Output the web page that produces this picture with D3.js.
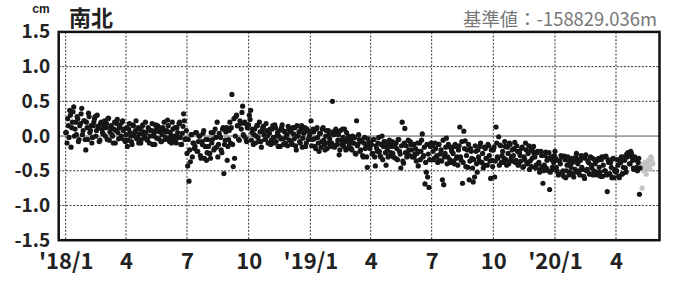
<!DOCTYPE html>
<html><head><meta charset="utf-8">
<script src="https://cdn.jsdelivr.net/npm/d3@7"></script>
<style>
html,body{margin:0;padding:0;background:#fff;}
svg{display:block;}
</style></head>
<body>
<svg id="chart" width="675" height="282"></svg>
<script>
// ---- data (cm), north-south component ----
// daily final solutions, split into even-day values (from 2018-01-01) and odd-day values (from 2018-01-02)
const evenStart = "2018-01-01";
const oddStart = "2018-01-02";
const stepDays = 2;
const ns2018 = [
 0.05,-0.1,0.15,0.37,-0.16,0.2,0.42,0.1,0.02,0.25,-0.05,0.18,0.4,0.08,0.22,-0.2,
 0.12,0.33,0.05,0.15,-0.02,0.2,0.28,0.08,0.14,-0.08,0.18,0.1,0.03,0.22,
 0.12,-0.05,0.26,0.06,0.15,0.0,0.1,-0.1,0.18,0.05,0.12,-0.03,0.2,0.08,-0.06,
 0.02,-0.15,0.1,0.05,-0.08,0.16,0.0,0.08,-0.04,0.12,0.03,-0.1,0.14,0.06,-0.02,
 0.05,-0.06,0.1,0.0,0.08,-0.12,0.04,0.16,-0.03,0.07,0.12,-0.08,0.02,0.09,-0.05,0.06,
 0.23,-0.04,0.05,-0.1,0.1,0.0,-0.06,0.12,-0.02,0.2,-0.12,0.04,0.32,-0.05,0.08,
 -0.43,-0.65,-0.37,0.02,-0.1,-0.18,0.05,-0.22,-0.08,0.0,-0.32,-0.12,0.08,-0.15,-0.35,
 -0.05,-0.25,-0.32,-0.1,0.05,-0.18,-0.02,0.2,-0.12,0.0,-0.2,0.1,-0.54,-0.06,0.12,-0.15,
 0.08,-0.1,0.6,-0.44,-0.32,0.28,0.15,-0.05,0.22,0.1,0.43,0.0,0.18,-0.08,0.12,
 0.3,0.37,0.05,-0.12,0.1,0.0,0.15,-0.08,0.06,-0.16,0.12,0.02,-0.05,0.08,-0.1,
 0.04,-0.12,0.1,-0.02,0.16,-0.08,0.05,0.0,-0.15,0.12,-0.04,0.07,-0.1,0.02,0.14,
 -0.06,0.08,-0.12,0.03,0.12,-0.2,0.0,0.06,-0.1,0.15,-0.03,0.05,-0.15,0.1,-0.05,0.02
];
const ns2019 = [
 0.22,-0.05,0.06,-0.15,0.1,-0.02,-0.22,0.04,-0.08,0.12,-0.12,0.0,-0.18,0.08,-0.04,
 -0.1,0.5,0.02,-0.14,0.05,-0.06,-0.27,0.08,-0.12,-0.02,0.1,-0.2,-0.05,0.0,
 -0.08,-0.18,0.0,-0.1,-0.25,0.22,-0.12,-0.05,-0.2,-0.08,-0.3,-0.02,-0.15,-0.45,-0.1,-0.18,
 -0.12,-0.25,-0.05,-0.43,-0.18,-0.1,-0.22,-0.3,0.0,-0.15,-0.08,-0.42,-0.2,-0.12,-0.28,
 -0.15,-0.25,-0.1,-0.32,-0.18,-0.05,-0.22,-0.46,0.2,-0.39,0.11,-0.14,-0.26,-0.2,-0.08,
 -0.2,-0.12,-0.3,-0.18,-0.25,-0.43,-0.1,-0.22,0.03,-0.28,-0.69,-0.52,-0.59,-0.74,-0.15,
 -0.1,-0.22,-0.32,-0.18,-0.28,-0.12,-0.35,-0.2,-0.63,-0.7,-0.25,-0.03,-0.3,-0.15,-0.38,-0.22,
 -0.25,-0.4,-0.15,-0.3,-0.2,0.13,-0.35,-0.68,0.07,-0.07,-0.28,-0.45,-0.63,-0.18,-0.32,
 -0.66,-0.59,-0.22,-0.52,-0.3,-0.15,-0.38,-0.25,-0.42,-0.18,-0.32,-0.12,-0.28,-0.61,-0.35,
 -0.2,-0.59,0.13,-0.3,-0.01,-0.13,-0.38,-0.22,-0.32,-0.15,-0.42,-0.25,-0.1,-0.35,-0.2,-0.28,
 -0.09,-0.35,-0.22,-0.4,-0.28,-0.18,-0.45,-0.3,-0.1,-0.38,-0.25,-0.48,-0.2,-0.32,-0.15,
 -0.3,-0.42,-0.22,-0.38,-0.48,-0.28,-0.68,-0.42,-0.23,-0.35,-0.5,-0.77,-0.3,-0.45,-0.38
];
const ns2020 = [
 -0.22,-0.45,-0.35,-0.55,-0.4,-0.3,-0.5,-0.29,-0.6,-0.42,-0.35,-0.52,-0.45,-0.38,-0.59,-0.48,
 -0.25,-0.4,-0.5,-0.35,-0.45,-0.3,-0.61,-0.27,-0.48,-0.38,-0.55,-0.42,-0.32,-0.5,
 -0.4,-0.52,-0.35,-0.45,-0.58,-0.3,-0.42,-0.5,-0.29,-0.8,-0.38,-0.55,-0.45,-0.33,-0.6,-0.48,
 -0.5,-0.42,-0.6,-0.38,-0.55,-0.45,-0.35,-0.52,-0.3,-0.27,-0.4,-0.25,-0.35,-0.48,-0.32,
 -0.45,-0.38,-0.84
];
const ns2018b = [
 0.05,0.25,-0.02,0.3,0.12,0.35,0.0,0.2,0.28,-0.08,0.15,0.32,0.02,0.22,-0.05,
 0.2,-0.05,0.28,0.08,-0.1,0.15,0.25,0.0,0.3,0.12,-0.06,0.2,0.05,0.15,
 0.0,0.18,0.25,-0.06,0.12,0.02,-0.1,0.2,0.08,0.24,-0.04,0.15,0.0,0.22,0.1,-0.08,
 0.12,-0.06,0.18,0.0,-0.12,0.15,0.05,0.22,-0.02,-0.1,0.1,-0.05,0.16,0.02,0.2,
 -0.05,0.12,-0.1,0.08,0.18,0.0,-0.12,0.1,0.15,-0.04,0.06,-0.08,0.12,0.2,-0.02,
 0.08,0.15,-0.08,0.0,0.2,-0.05,0.12,-0.1,0.05,0.18,-0.02,-0.12,0.14,0.22,-0.04,
 -0.25,-0.05,-0.2,0.02,-0.3,-0.1,-0.15,0.05,-0.22,0.0,-0.28,-0.08,0.04,-0.32,-0.05,-0.24,
 -0.15,-0.25,0.05,-0.05,-0.2,0.1,-0.16,-0.3,0.04,-0.02,-0.24,0.12,-0.12,0.06,-0.35,
 -0.05,0.2,0.12,-0.12,0.25,0.0,0.3,0.15,-0.06,0.18,0.34,0.02,0.2,-0.04,0.12,
 0.16,0.24,-0.06,0.1,0.02,-0.1,0.15,-0.02,0.2,-0.08,0.08,0.14,-0.05,0.18,0.0,-0.1,
 0.1,-0.06,0.15,-0.1,0.12,0.0,-0.15,0.08,-0.04,0.16,-0.12,0.06,-0.02,-0.14,0.1,
 0.06,-0.1,0.12,-0.04,-0.14,0.15,0.0,-0.08,0.1,-0.16,0.04,0.12,-0.1,0.08,-0.03
];
const ns2019b = [
 0.06,-0.14,0.1,-0.04,-0.18,0.12,-0.1,0.04,-0.16,0.1,-0.06,-0.2,0.08,-0.1,0.02,-0.15,
 -0.1,0.06,-0.16,0.1,-0.12,0.02,-0.2,-0.06,0.1,-0.15,-0.08,0.05,-0.18,-0.12,
 -0.05,-0.2,-0.1,-0.02,-0.26,-0.14,0.02,-0.22,-0.06,-0.28,-0.1,-0.18,-0.3,-0.04,-0.16,
 -0.1,-0.26,-0.05,-0.3,-0.14,-0.22,-0.02,-0.28,-0.12,-0.34,-0.08,-0.24,-0.15,-0.3,-0.06,
 -0.24,-0.08,-0.3,-0.15,-0.1,-0.34,-0.05,-0.26,-0.14,-0.36,-0.1,-0.24,-0.3,-0.06,-0.28,-0.12,
 -0.3,-0.12,-0.26,-0.36,-0.1,-0.22,-0.34,-0.06,-0.3,-0.16,-0.38,-0.12,-0.26,-0.34,-0.1,
 -0.14,-0.34,-0.1,-0.3,-0.38,-0.12,-0.26,-0.36,-0.06,-0.3,-0.16,-0.4,-0.12,-0.34,-0.18,
 -0.16,-0.36,-0.12,-0.32,-0.42,-0.14,-0.3,-0.08,-0.38,-0.18,-0.44,-0.2,-0.12,-0.36,-0.22,-0.46,
 -0.34,-0.14,-0.4,-0.2,-0.36,-0.1,-0.38,-0.46,-0.16,-0.32,-0.42,-0.14,-0.36,-0.2,-0.44,
 -0.16,-0.36,-0.1,-0.32,-0.42,-0.14,-0.28,-0.38,-0.08,-0.34,-0.16,-0.4,-0.12,-0.3,-0.36,
 -0.18,-0.38,-0.14,-0.42,-0.24,-0.36,-0.16,-0.44,-0.34,-0.2,-0.4,-0.14,-0.36,-0.44,-0.22,
 -0.26,-0.46,-0.24,-0.4,-0.52,-0.22,-0.44,-0.5,-0.28,-0.46,-0.32,-0.24,-0.52,-0.34,-0.48,-0.28
];
const ns2020b = [
 -0.32,-0.5,-0.56,-0.36,-0.28,-0.52,-0.58,-0.34,-0.5,-0.3,-0.56,-0.38,-0.32,-0.54,-0.36,
 -0.3,-0.52,-0.34,-0.56,-0.28,-0.48,-0.58,-0.32,-0.5,-0.36,-0.54,-0.3,-0.46,-0.56,-0.34,
 -0.36,-0.56,-0.32,-0.52,-0.34,-0.58,-0.3,-0.5,-0.56,-0.34,-0.54,-0.38,-0.6,-0.32,-0.5,
 -0.52,-0.34,-0.58,-0.36,-0.3,-0.54,-0.3,-0.46,-0.26,-0.24,-0.4,-0.22,-0.3,-0.46,-0.3,
 -0.34,-0.5,-0.32,-0.46
];
// rapid (preliminary) daily solutions, shown in grey
const rapidStart = "2020-05-08";
const nsRapid = [-0.45,-0.4,-0.75,-0.48,-0.5,-0.42,-0.38,-0.46,-0.55,-0.4,-0.42,-0.35,-0.35,-0.44,-0.48,-0.3,-0.32,-0.38,-0.4];

const yTicks = [-1.5,-1.0,-0.5,0.0,0.5,1.0,1.5];
const yTickLabels = ["-1.5","-1.0","-0.5","0.0","0.5","1.0","1.5"];
const xTickDates = ["2018-01-01","2018-04-01","2018-07-01","2018-10-01","2019-01-01","2019-04-01","2019-07-01","2019-10-01","2020-01-01","2020-04-01"];
const xTickLabels = ["'18/1","4","7","10","'19/1","4","7","10","'20/1","4"];
const xDomain = ["2017-12-21T14:00:00Z","2020-06-04T22:00:00Z"];
const title = "南北";
const unit = "cm";
const refText = "基準値：-158829.036m";

// ---- build ----
const parse = s => new Date(s.length === 10 ? s + "T00:00:00Z" : s);
const toPts = (vals, start, step) => { const t = parse(start);
  return vals.map((v, i) => ({date: d3.utcDay.offset(t, i * step), v})); };
const finalPts = toPts(ns2018.concat(ns2019, ns2020), evenStart, stepDays)
  .concat(toPts(ns2018b.concat(ns2019b, ns2020b), oddStart, stepDays));
const rapidPts = toPts(nsRapid, rapidStart, 1);

const L = 58.7, R = 659.5, T = 31.9, B = 240.2;
const x = d3.scaleUtc().domain(xDomain.map(parse)).range([L, R]);
const y = d3.scaleLinear().domain([-1.5, 1.5]).range([B, T]);

const svg = d3.select("#chart");
const FONT = "'Noto Sans CJK JP','Noto Sans',sans-serif";

svg.append("defs").append("clipPath").attr("id","clip")
  .append("rect").attr("x",L).attr("y",T).attr("width",R-L).attr("height",B-T);

// grid
const grid = svg.append("g");
grid.selectAll("line.h").data(yTicks.filter(d => d !== 0 && Math.abs(d) !== 1.5)).join("line")
  .attr("x1",L).attr("x2",R).attr("y1",d=>y(d)).attr("y2",d=>y(d))
  .attr("stroke","#333").attr("stroke-width",1).attr("stroke-dasharray","2,1.6");
grid.selectAll("line.v").data(xTickDates.map(parse)).join("line")
  .attr("x1",d=>x(d)).attr("x2",d=>x(d)).attr("y1",T).attr("y2",B)
  .attr("stroke","#333").attr("stroke-width",1).attr("stroke-dasharray","2,1.6");
grid.append("line").attr("x1",L).attr("x2",R).attr("y1",y(0)).attr("y2",y(0))
  .attr("stroke","#555").attr("stroke-width",1);

// points
const pts = svg.append("g").attr("clip-path","url(#clip)");
pts.selectAll("circle.r").data(rapidPts).join("circle")
  .attr("cx",d=>x(d.date)).attr("cy",d=>y(d.v)).attr("r",2.6).attr("fill","#c4c4c4");
pts.selectAll("circle.f").data(finalPts).join("circle")
  .attr("cx",d=>x(d.date)).attr("cy",d=>y(d.v)).attr("r",2.6).attr("fill","#161616");

// frame
svg.append("rect").attr("x",L).attr("y",T).attr("width",R-L).attr("height",B-T)
  .attr("fill","none").attr("stroke","#111").attr("stroke-width",2.5);

// axes
const xAxis = d3.axisBottom(x).tickValues(xTickDates.map(parse))
  .tickFormat((d,i)=>xTickLabels[i]).tickSize(0).tickPadding(13.5);
const gx = svg.append("g").attr("transform",`translate(0,${B})`).call(xAxis);
gx.select(".domain").remove();
gx.selectAll("text").attr("font-family",FONT).attr("font-weight","bold")
  .attr("font-size","22px").attr("fill","#222");

const yAxis = d3.axisLeft(y).tickValues(yTicks).tickFormat((d,i)=>yTickLabels[i])
  .tickSize(0).tickPadding(8.5);
const gy = svg.append("g").attr("transform",`translate(${L},0)`).call(yAxis);
gy.select(".domain").remove();
gy.selectAll("text").attr("font-family",FONT).attr("font-weight","bold")
  .attr("font-size","19px").attr("fill","#222");

// labels
svg.append("text").attr("x",69).attr("y",26).text(title)
  .attr("font-family",FONT).attr("font-weight","bold").attr("font-size","22px").attr("fill","#222");
svg.append("text").attr("x",41).attr("y",13.3).attr("text-anchor","middle").text(unit)
  .attr("font-family","'Liberation Sans',Arial,sans-serif").attr("font-weight","bold")
  .attr("font-size","12px").attr("fill","#222");
svg.append("text").attr("x",657).attr("y",26).attr("text-anchor","end").text(refText)
  .attr("font-family",FONT).attr("font-size","18.4px").attr("fill","#777");
</script>
</body></html>
